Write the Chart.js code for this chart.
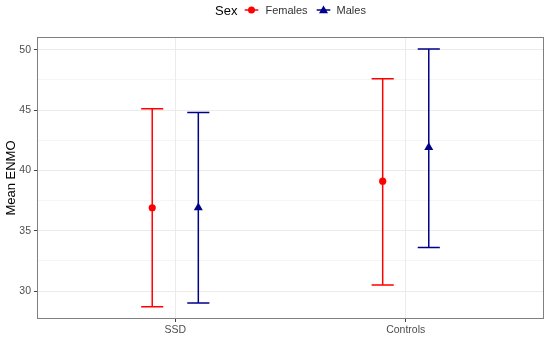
<!DOCTYPE html>
<html>
<head>
<meta charset="utf-8">
<script src="https://cdn.jsdelivr.net/npm/chart.js@4/dist/chart.umd.min.js"></script>
<style>
  html, body { margin: 0; padding: 0; background: #fff; }
  #wrap { position: relative; width: 550px; height: 337px; }
  #legend {
    position: absolute; top: 0; left: 215px; height: 20px;
    display: flex; align-items: center;
    font-family: "Liberation Sans", Arial, sans-serif; color: #000;
  }
  #legend .title { font-size: 13px; margin-right: 6px; }
  #legend .lab { font-size: 11px; color: #333; margin-left: 5px; margin-right: 7px; }
  #legend svg { display: block; }
</style>
</head>
<body>
<div id="wrap">
  <canvas id="c" width="550" height="337"></canvas>
  <div id="legend"></div>
</div>
<script>
(function () {
    'use strict';

    // ── Data ──────────────────────────────────────────────────────
    const CATEGORIES = ['SSD', 'Controls'];
    const LEGEND_TITLE = 'Sex';
    const SERIES_LABELS = ['Females', 'Males'];

    const FEMALES_MEAN = [36.9, 39.1];
    const FEMALES_LOW = [28.7, 30.5];
    const FEMALES_HIGH = [45.1, 47.6];

    const MALES_MEAN = [36.9, 41.9];
    const MALES_LOW = [29.0, 33.6];
    const MALES_HIGH = [44.8, 50.05];

    const Y_TICKS = [30, 35, 40, 45, 50];
    const Y_MINOR = [32.5, 37.5, 42.5, 47.5];

    // ── Style ─────────────────────────────────────────────────────
    const RED = '#FF0000';
    const NAVY = '#00008B';
    const GRID = '#EBEBEB';
    const TICK_TEXT = '#4D4D4D';
    const FONT = '"Liberation Sans", Arial, sans-serif';
    const DODGE = 0.1;
    const CAP = 0.048;

    function points(means, shift) {
        return means.map(function (m, i) { return { x: i + 1 + shift, y: m }; });
    }

    // error bars drawn through the scales
    const errorBars = {
        id: 'errorBars',
        beforeDatasetsDraw: function (chart) {
            const ctx = chart.ctx, xs = chart.scales.x, ys = chart.scales.y;
            chart.data.datasets.forEach(function (ds) {
                ctx.save();
                ctx.strokeStyle = ds.borderColor;
                ctx.lineWidth = 1.5;
                ds.data.forEach(function (p, i) {
                    const x = xs.getPixelForValue(p.x);
                    const x0 = xs.getPixelForValue(p.x - CAP);
                    const x1 = xs.getPixelForValue(p.x + CAP);
                    const yl = ys.getPixelForValue(ds.low[i]);
                    const yh = ys.getPixelForValue(ds.high[i]);
                    ctx.beginPath();
                    ctx.moveTo(x, yl); ctx.lineTo(x, yh);
                    ctx.moveTo(x0, yl); ctx.lineTo(x1, yl);
                    ctx.moveTo(x0, yh); ctx.lineTo(x1, yh);
                    ctx.stroke();
                });
                ctx.restore();
            });
        }
    };

    const panelBorder = {
        id: 'panelBorder',
        afterDraw: function (chart) {
            const a = chart.chartArea, ctx = chart.ctx;
            ctx.save();
            ctx.strokeStyle = '#7F7F7F';
            ctx.lineWidth = 1;
            ctx.strokeRect(Math.round(a.left) + 0.5, Math.round(a.top) + 0.5,
                Math.round(a.right - a.left) - 1, Math.round(a.bottom - a.top) - 1);
            ctx.restore();
        }
    };

    new Chart(document.getElementById('c'), {
        type: 'scatter',
        data: {
            datasets: [
                {
                    label: SERIES_LABELS[0],
                    data: points(FEMALES_MEAN, -DODGE),
                    low: FEMALES_LOW, high: FEMALES_HIGH,
                    borderColor: RED, backgroundColor: RED,
                    pointStyle: 'circle', pointRadius: 3.6, borderWidth: 0
                },
                {
                    label: SERIES_LABELS[1],
                    data: points(MALES_MEAN, DODGE),
                    low: MALES_LOW, high: MALES_HIGH,
                    borderColor: NAVY, backgroundColor: NAVY,
                    pointStyle: 'triangle', pointRadius: 5.2, borderWidth: 0
                }
            ]
        },
        options: {
            responsive: false,
            animation: false,
            layout: { padding: { top: 37, right: 6, left: 0, bottom: 0 } },
            plugins: { legend: { display: false }, tooltip: { enabled: false } },
            scales: {
                x: {
                    type: 'linear', min: 0.4, max: 2.6,
                    afterBuildTicks: function (s) {
                        s.ticks = CATEGORIES.map(function (c, i) { return { value: i + 1 }; });
                    },
                    afterFit: function (s) { s.height = 18; },
                    border: { display: false },
                    grid: { color: GRID, lineWidth: 1, tickColor: '#444', tickLength: 3, tickWidth: 1 },
                    ticks: {
                        color: TICK_TEXT, font: { family: FONT, size: 10.5 }, padding: 2,
                        maxRotation: 0,
                        callback: function (v) { return CATEGORIES[Math.round(v) - 1]; }
                    }
                },
                y: {
                    min: 27.68, max: 51.05,
                    afterBuildTicks: function (s) {
                        s.ticks = Y_TICKS.concat(Y_MINOR).sort(function (a, b) { return a - b; })
                            .map(function (v) { return { value: v }; });
                    },
                    afterFit: function (s) { s.width = 37; },
                    border: { display: false },
                    grid: {
                        color: GRID,
                        lineWidth: function (c) { return Y_TICKS.indexOf(c.tick.value) >= 0 ? 1 : 0.5; },
                        tickColor: function (c) { return Y_TICKS.indexOf(c.tick.value) >= 0 ? '#444' : 'rgba(0,0,0,0)'; },
                        tickLength: 3, tickWidth: 1
                    },
                    ticks: {
                        color: TICK_TEXT, font: { family: FONT, size: 10.5 }, padding: 3,
                        callback: function (v) { return Y_TICKS.indexOf(v) >= 0 ? String(v) : ''; }
                    },
                    title: {
                        display: true, text: 'Mean ENMO', color: '#000',
                        font: { family: FONT, size: 13 }, padding: { top: 4, bottom: 0 }
                    }
                }
            }
        },
        plugins: [errorBars, panelBorder]
    });

    // ── Legend (HTML) ─────────────────────────────────────────────
    function keySvg(color, shape) {
        const mark = shape === 'circle'
            ? '<circle cx="8.5" cy="6" r="3.5" fill="' + color + '"/>'
            : '<polygon points="8.5,1.5 13,9.3 4,9.3" fill="' + color + '"/>';
        return '<svg width="17" height="12"><line x1="1.7" y1="6" x2="15.3" y2="6" stroke="' +
            color + '" stroke-width="1.5"/>' + mark + '</svg>';
    }
    const legend = document.getElementById('legend');
    legend.innerHTML = '<span class="title">' + LEGEND_TITLE + '</span>' +
        keySvg(RED, 'circle') + '<span class="lab">' + SERIES_LABELS[0] + '</span>' +
        keySvg(NAVY, 'triangle') + '<span class="lab">' + SERIES_LABELS[1] + '</span>';
})();
</script>
</body>
</html>
